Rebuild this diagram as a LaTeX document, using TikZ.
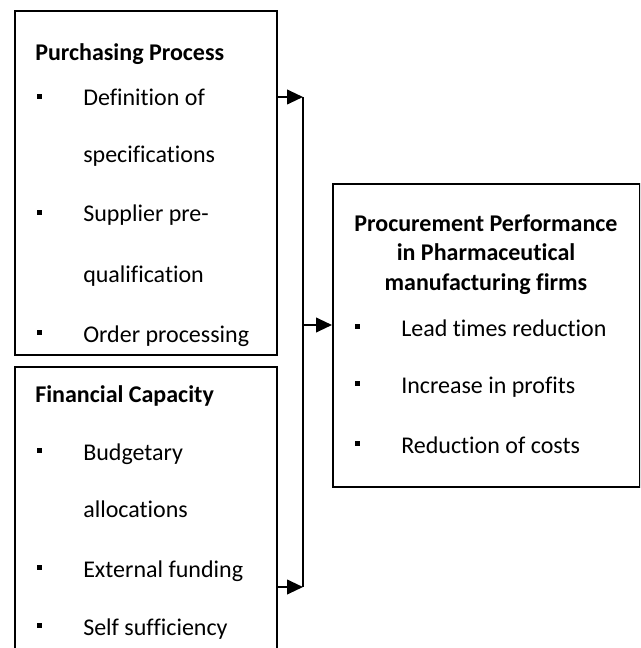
\documentclass[tikz,border=0pt]{standalone}
\usepackage{fontspec}
\setmainfont[Ligatures=NoCommon]{Carlito}
\usetikzlibrary{arrows.meta}
\begin{document}
\begin{tikzpicture}[x=0.75pt,y=-0.75pt,
  box/.style={draw,line width=1.4pt,inner sep=0pt,anchor=north west},
  label/.style={inner sep=0pt,anchor=base west,font=\fontsize{18}{21}\selectfont},
  head/.style={inner sep=0pt,anchor=base west,font=\fontsize{18}{21}\selectfont\bfseries},
  chead/.style={inner sep=0pt,anchor=base,font=\fontsize{18}{21}\selectfont\bfseries},
  bullet/.style={fill,inner sep=0pt,minimum size=4.3pt},
  link/.style={line width=1.5pt},
  arr/.style={line width=1.5pt,-{Triangle[length=12pt,width=11pt]}}]
\useasboundingbox (0,0) rectangle (640,648);
\clip (0,0) rectangle (640,648);

% the three boxes
\node[box,minimum width=196.5pt,minimum height=258pt] (purch) at (14,10) {};
\node[box,minimum width=196.5pt,minimum height=228pt] (fin) at (14,366) {};
\node[box,minimum width=230.25pt,minimum height=227.25pt] (perf) at (332,183) {};

% Purchasing Process
\node[head] (pt) at (35,61) {Purchasing Process};
\node[bullet] (pb1) at (39.5,96.5) {};
\node[label] (p1) at (83,106) {Definition of};
\node[label] (p1b) at (83,163) {specifications};
\node[bullet] (pb2) at (39.5,212.5) {};
\node[label] (p2) at (83,222) {Supplier pre-};
\node[label] (p2b) at (83,282) {qualification};
\node[bullet] (pb3) at (39.5,332.5) {};
\node[label] (p3) at (83,342) {Order processing};

% Financial Capacity
\node[head] (ft) at (35,402) {Financial Capacity};
\node[bullet] (fb1) at (39.5,450.5) {};
\node[label] (f1) at (83,460) {Budgetary};
\node[label] (f1b) at (83,517) {allocations};
\node[bullet] (fb2) at (39.5,567.5) {};
\node[label] (f2) at (83,577) {External funding};
\node[bullet] (fb3) at (39.5,625.5) {};
\node[label] (f3) at (83,635) {Self sufficiency};

% Procurement Performance
\node[chead] (rt1) at (486,232) {Procurement Performance};
\node[chead] (rt2) at (486,260) {in Pharmaceutical};
\node[chead] (rt3) at (486,290) {manufacturing firms};
\node[bullet] (rb1) at (357.5,326.5) {};
\node[label] (r1) at (401,336) {Lead times reduction};
\node[bullet] (rb2) at (357.5,383.5) {};
\node[label] (r2) at (401,393) {Increase in profits};
\node[bullet] (rb3) at (357.5,443.5) {};
\node[label] (r3) at (401,453) {Reduction of costs};

% connectors
\coordinate (jtop) at (303,97);
\coordinate (jbot) at (303,587);
\coordinate (jmid) at (303,325);
\draw[arr] (purch.east |- jtop) -- (jtop);
\draw[arr] (fin.east |- jbot) -- (jbot);
\draw[link] (jtop) -- (jbot);
\draw[arr] (jmid) -- (perf.west |- jmid);
\end{tikzpicture}
\end{document}
